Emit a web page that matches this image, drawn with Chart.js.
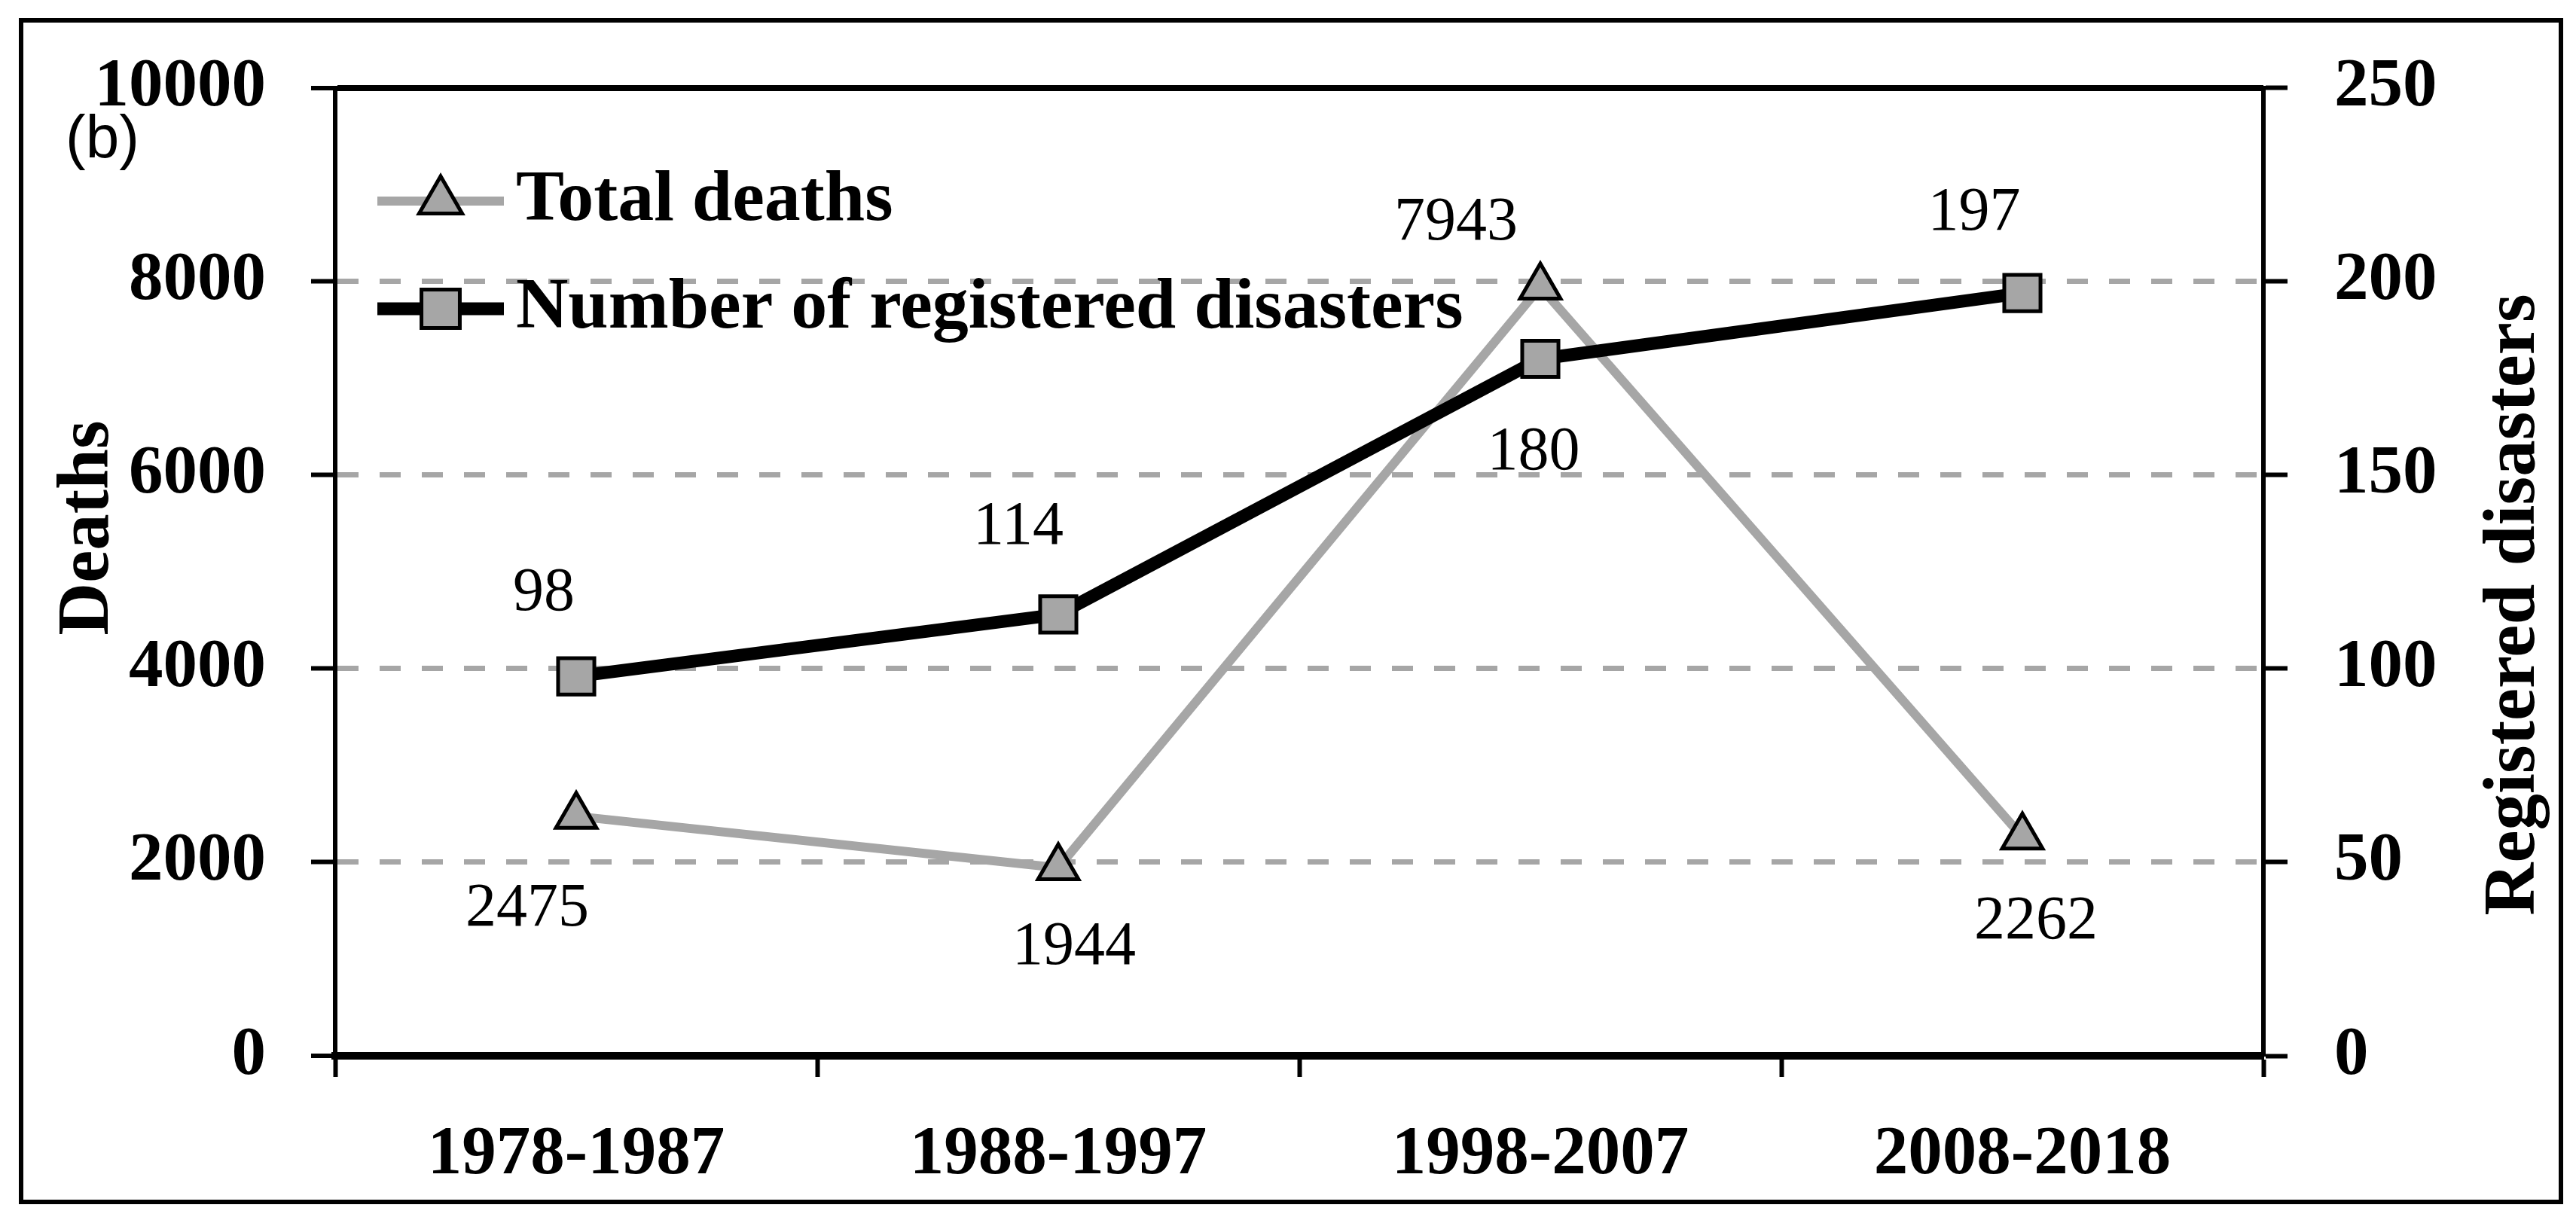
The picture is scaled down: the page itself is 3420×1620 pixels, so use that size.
<!DOCTYPE html>
<html>
<head>
<meta charset="utf-8">
<title>Deaths and registered disasters</title>
<script src="https://cdn.jsdelivr.net/npm/chart.js@4.4.1/dist/chart.umd.min.js"></script>
<style>
  html, body { margin: 0; padding: 0; background: #fff; }
  #chart { display: block; }
</style>
</head>
<body>
<canvas id="chart" width="3420" height="1620"></canvas>
<script>
// Data
const periods = ['1978-1987', '1988-1997', '1998-2007', '2008-2018'];
const totalDeaths = [2475, 1944, 7943, 2262];
const registeredDisasters = [98, 114, 180, 197];
const deathTicks = [0, 2000, 4000, 6000, 8000, 10000];
const disasterTicks = [0, 50, 100, 150, 200, 250];

// Where each value label sits relative to its point (px)
const deathLabelOffsets = [[-65, 124], [21, 106], [-112, -85], [18, 113]];
const disasterLabelOffsets = [[-43, -110], [-53, -115], [-9, 125], [-64, -106]];

const SERIF = '"Liberation Serif", "Times New Roman", serif';
const SANS = '"Liberation Sans", Arial, sans-serif';
const GREY = '#a6a6a6';

function drawMarker(ctx, style, x, y, r, fill, stroke, bw) {
  ctx.save();
  ctx.beginPath();
  if (style === 'triangle') {
    const a = (2 * Math.PI) / 3;
    ctx.moveTo(x, y - r);
    ctx.lineTo(x + Math.sin(a) * r, y - Math.cos(a) * r);
    ctx.lineTo(x + Math.sin(2 * a) * r, y - Math.cos(2 * a) * r);
    ctx.closePath();
  } else {
    const s = r * Math.SQRT1_2;
    ctx.rect(x - s, y - s, 2 * s, 2 * s);
  }
  ctx.fillStyle = fill;
  ctx.fill();
  ctx.lineWidth = bw;
  ctx.strokeStyle = stroke;
  ctx.stroke();
  ctx.restore();
}

const decorations = {
  id: 'decorations',
  beforeDraw(chart) {
    const ctx = chart.ctx;
    ctx.save();
    ctx.fillStyle = '#fff';
    ctx.fillRect(0, 0, chart.width, chart.height);
    ctx.restore();
  },
  afterDatasetsDraw(chart) {
    const ctx = chart.ctx;
    ctx.save();
    ctx.fillStyle = '#000';
    ctx.font = '82px ' + SERIF;
    ctx.textAlign = 'center';
    ctx.textBaseline = 'middle';
    chart.data.datasets.forEach((ds, i) => {
      const meta = chart.getDatasetMeta(i);
      meta.data.forEach((pt, j) => {
        const off = ds.labelOffsets[j];
        ctx.fillText(String(ds.data[j]), pt.x + off[0], pt.y + off[1]);
      });
    });
    ctx.restore();
  },
  afterDraw(chart) {
    const ctx = chart.ctx;
    ctx.save();

    // outer frame
    ctx.strokeStyle = '#000';
    ctx.lineWidth = 6;
    ctx.strokeRect(28, 27, 3372, 1569);

    // panel tag
    ctx.fillStyle = '#000';
    ctx.font = '80px ' + SANS;
    ctx.textAlign = 'center';
    ctx.textBaseline = 'middle';
    ctx.fillText('(b)', 136, 187);

    // legend
    const rows = [267, 410];
    chart.data.datasets.forEach((ds, i) => {
      const y = rows[i];
      ctx.beginPath();
      ctx.moveTo(501, y);
      ctx.lineTo(669, y);
      ctx.strokeStyle = ds.borderColor;
      ctx.lineWidth = ds.borderWidth;
      ctx.stroke();
      drawMarker(ctx, ds.pointStyle, 585, y, ds.pointRadius + 2, ds.pointBackgroundColor, ds.pointBorderColor, ds.pointBorderWidth);
      ctx.fillStyle = '#000';
      ctx.font = 'bold 96px ' + SERIF;
      ctx.textAlign = 'left';
      ctx.textBaseline = 'middle';
      ctx.fillText(ds.label, 685, y);
    });

    // axis titles (both read bottom to top)
    ctx.font = 'bold 97px ' + SERIF;
    ctx.textAlign = 'center';
    ctx.textBaseline = 'alphabetic';
    [['Deaths', 143, 701], ['Registered disasters', 3364, 803]].forEach(([t, x, y]) => {
      ctx.save();
      ctx.translate(x, y);
      ctx.rotate(-Math.PI / 2);
      ctx.fillText(t, 0, 0);
      ctx.restore();
    });
    ctx.restore();
  }
};

const tickFont = { family: SERIF, size: 91, weight: 'bold', lineHeight: 1.2 };
const deathMax = deathTicks[deathTicks.length - 1];
const inner = c => c.tick && c.tick.value > deathTicks[0] && c.tick.value < deathMax;
const plain = v => String(v);

new Chart(document.getElementById('chart'), {
  type: 'line',
  data: {
    labels: periods,
    datasets: [
      {
        label: 'Total deaths',
        data: totalDeaths,
        yAxisID: 'y',
        order: 1,
        borderColor: GREY,
        borderWidth: 12,
        pointStyle: 'triangle',
        pointRadius: 31,
        pointBackgroundColor: GREY,
        pointBorderColor: '#000',
        pointBorderWidth: 5,
        tension: 0,
        labelOffsets: deathLabelOffsets
      },
      {
        label: 'Number of registered disasters',
        data: registeredDisasters,
        yAxisID: 'y1',
        order: 0,
        borderColor: '#000',
        borderWidth: 17,
        pointStyle: 'rect',
        pointRadius: 34,
        pointBackgroundColor: GREY,
        pointBorderColor: '#000',
        pointBorderWidth: 5,
        tension: 0,
        labelOffsets: disasterLabelOffsets
      }
    ]
  },
  options: {
    responsive: false,
    devicePixelRatio: 1,
    animation: false,
    events: [],
    layout: { padding: { top: 103, left: 0, right: 0, bottom: 0 } },
    plugins: {
      legend: { display: false },
      tooltip: { enabled: false }
    },
    scales: {
      x: {
        offset: true,
        grid: { offset: true, drawOnChartArea: false, tickLength: 28, tickWidth: 6, tickColor: '#000' },
        border: { color: '#000', width: 10 },
        ticks: { color: '#000', font: tickFont, padding: 50, maxRotation: 0, autoSkip: false },
        afterFit: s => { s.height = 218; }
      },
      y: {
        position: 'left',
        min: deathTicks[0],
        max: deathMax,
        afterBuildTicks: s => { s.ticks = deathTicks.map(v => ({ value: v })); },
        grid: {
          color: c => inner(c) ? GREY : '#000',
          lineWidth: c => inner(c) ? 7 : 8,
          tickLength: 32, tickWidth: 6, tickColor: '#000'
        },
        border: { color: '#000', width: 6, dash: c => inner(c) ? [28, 28] : [] },
        ticks: { color: '#000', font: tickFont, padding: 60, callback: plain },
        afterFit: s => { s.width = 445; }
      },
      y1: {
        position: 'right',
        min: disasterTicks[0],
        max: disasterTicks[disasterTicks.length - 1],
        afterBuildTicks: s => { s.ticks = disasterTicks.map(v => ({ value: v })); },
        grid: { drawOnChartArea: false, tickLength: 32, tickWidth: 6, tickColor: '#000' },
        border: { color: '#000', width: 6 },
        ticks: { color: '#000', font: tickFont, padding: 62, callback: plain },
        afterFit: s => { s.width = 415; }
      }
    }
  },
  plugins: [decorations]
});
</script>
</body>
</html>
